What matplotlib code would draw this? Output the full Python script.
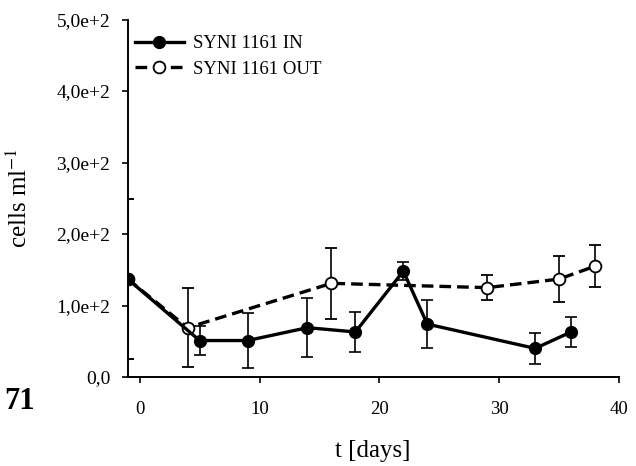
import matplotlib
matplotlib.use("Agg")
import matplotlib.pyplot as plt
from matplotlib.ticker import FuncFormatter

plt.rcParams['font.family'] = ['Liberation Serif', 'DejaVu Serif']
plt.rcParams['mathtext.fontset'] = 'stix'

# SYNI 1161 IN
t_in = [-1, 5, 9, 14, 18, 22, 24, 33, 36]
cells_in = [137, 51, 51, 69, 63, 148, 74, 40, 63]
err_in = [112, 20, 39, 41, 28, 13, 34, 22, 21]

# SYNI 1161 OUT
t_out = [-1, 4, 16, 29, 35, 38]
cells_out = [137, 69, 131, 125, 137, 155]
err_out = [112, 55, 50, 17, 32, 29]


def sci_comma(v, pos):
    if v == 0:
        return "0,0"
    return ("%.1e" % v).replace(".", ",").replace("e+0", "e+")


fig = plt.figure(figsize=(6.36, 4.66), dpi=100)
ax = fig.add_axes([0.2008, 0.191, 0.7725, 0.767])

c_out = ax.errorbar(t_out, cells_out, yerr=err_out, color="black", lw=2.4, ls=(0, (3.5, 1.8)),
                    marker="o", ms=8.5, mfc="white", mec="black", mew=1.3,
                    ecolor="black", elinewidth=1.2, capsize=4, capthick=1.2,
                    label="SYNI 1161 OUT", zorder=2)
c_in = ax.errorbar(t_in, cells_in, yerr=err_in, color="black", lw=2.4,
                   marker="o", ms=8.5, mfc="black", mec="black",
                   ecolor="black", elinewidth=1.2, capsize=4, capthick=1.2,
                   label="SYNI 1161 IN", zorder=3)

ax.set_xlim(-1, 40)
ax.set_ylim(0, 500)
ax.set_xticks([0, 10, 20, 30, 40])
ax.set_yticks([0, 100, 200, 300, 400, 500])
ax.yaxis.set_major_formatter(FuncFormatter(sci_comma))
ax.tick_params(direction="out", length=4, width=1.2, labelsize=13.5)
ax.tick_params(axis="y", labelsize=14, pad=8.5)
ax.tick_params(axis="x", pad=13)
for s in ["top", "right"]:
    ax.spines[s].set_visible(False)
for s in ["left", "bottom"]:
    ax.spines[s].set_linewidth(1.4)

ax.set_xlabel("t [days]", fontsize=18, va="center")
ax.xaxis.set_label_coords(0.498, -0.208)
ax.set_ylabel("cells ml$^{-1}$", fontsize=18, va="center")
ax.yaxis.set_label_coords(-0.221, 0.5)

ax.legend([c_in.lines[0], c_out.lines[0]], ["SYNI 1161 IN", "SYNI 1161 OUT"],
          loc="upper left", bbox_to_anchor=(0.015, 0.957), frameon=False,
          fontsize=13.5, handlelength=2.6, handletextpad=0.5, labelspacing=0.45,
          borderpad=0, borderaxespad=0)

fig.text(0.006, 0.122, "71", fontsize=22, fontweight="bold")

fig.savefig("out.png", dpi=100)
